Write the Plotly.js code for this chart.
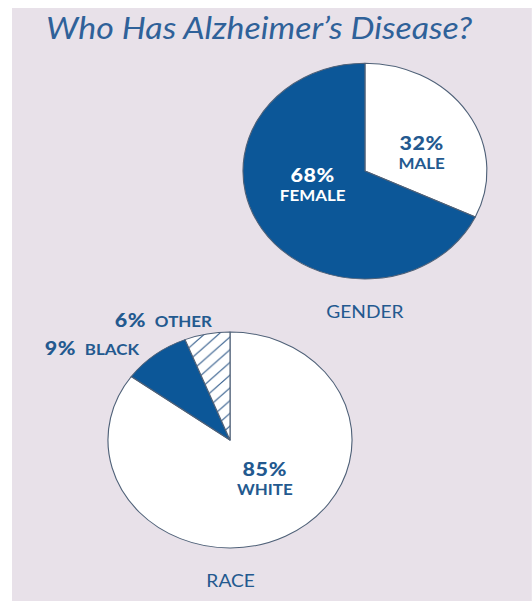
<!DOCTYPE html>
<html>
<head>
<meta charset="utf-8">
<script src="https://cdn.plot.ly/plotly-3.0.1.min.js"></script>
<style>
  html, body { margin: 0; padding: 0; background: #ffffff; width: 532px; height: 601px; overflow: hidden; }
  #chart { position: absolute; left: 12px; top: 8px; width: 460px; height: 593px;
           transform: scaleX(1.13); transform-origin: 0 0; }
</style>
</head>
<body>
<div id="chart"></div>
<script>
// ---- data ----
const chartTitle = "Who Has Alzheimer\u2019s Disease?";
const genderTitle = "GENDER";
const genderLabels = ["MALE", "FEMALE"];
const genderValues = [32, 68];
const raceTitle = "RACE";
const raceLabels = ["WHITE", "BLACK", "OTHER"];
const raceValues = [85, 9, 6];

// ---- styles ----
const BG = "#e8e1e9";
const BLUE = "#0c5798";
const TEXTBLUE = "#23598f";
const EDGE = "#4f6178";
const FONT = "Lato, 'Open Sans', sans-serif";

const gender = {
  type: "pie",
  labels: genderLabels,
  values: genderValues,
  sort: false,
  direction: "clockwise",
  rotation: 0,
  textinfo: "none",
  hoverinfo: "none",
  marker: { colors: ["#ffffff", BLUE], line: { color: EDGE, width: 1 } },
  domain: { x: [0.444, 0.914], y: [0.543, 0.907] },
  showlegend: false
};

const race = {
  type: "pie",
  labels: raceLabels,
  values: raceValues,
  sort: false,
  direction: "clockwise",
  rotation: 0,
  textinfo: "none",
  hoverinfo: "none",
  marker: {
    colors: ["#ffffff", BLUE, "#ffffff"],
    line: { color: EDGE, width: 1 },
    pattern: { shape: ["", "", "/"], fgcolor: "#3a6290", bgcolor: "#ffffff", size: 9, solidity: 0.12 }
  },
  domain: { x: [0.1846, 0.6542], y: [0.0894, 0.4536] },
  showlegend: false
};

function pctLine(v, label, sep) {
  return "<span style='font-size:19px;font-weight:900;letter-spacing:0.5px'>" + v + "%</span>" + sep +
         "<span style='font-weight:700'>" + label + "</span>";
}

const annotations = [
  { text: "<i>" + chartTitle + "</i>", x: 0.062, y: 1, xanchor: "left", yanchor: "top", borderpad: 0,
    font: { family: FONT, size: 30, color: "#2f6199", weight: 400 } },
  { text: pctLine(genderValues[1], genderLabels[1], "<br>"), x: 0.579, y: 0.704,
    font: { family: FONT, size: 15, color: "#ffffff" } },
  { text: pctLine(genderValues[0], genderLabels[0], "<br>"), x: 0.787, y: 0.758,
    font: { family: FONT, size: 15, color: TEXTBLUE } },
  { text: genderTitle, x: 0.679, y: 0.489, font: { family: FONT, size: 17, color: TEXTBLUE } },
  { text: pctLine(raceValues[2], raceLabels[2], "  "), x: 0.2905, y: 0.474,
    font: { family: FONT, size: 15, color: TEXTBLUE } },
  { text: pctLine(raceValues[1], raceLabels[1], "  "), x: 0.155, y: 0.428,
    font: { family: FONT, size: 15, color: TEXTBLUE } },
  { text: pctLine(raceValues[0], raceLabels[0], "<br>"), x: 0.4867, y: 0.2067,
    font: { family: FONT, size: 15, color: TEXTBLUE } },
  { text: raceTitle, x: 0.421, y: 0.0354, font: { family: FONT, size: 17, color: TEXTBLUE } }
].map(a => Object.assign({ xref: "paper", yref: "paper", showarrow: false,
                           xanchor: a.xanchor || "center", yanchor: a.yanchor || "middle" }, a));

const layout = {
  width: 460,
  height: 593,
  margin: { l: 0, r: 0, t: 0, b: 0 },
  paper_bgcolor: BG,
  plot_bgcolor: BG,
  showlegend: false,
  annotations: annotations
};

Plotly.newPlot("chart", [gender, race], layout, { staticPlot: true, displayModeBar: false });
</script>
</body>
</html>
